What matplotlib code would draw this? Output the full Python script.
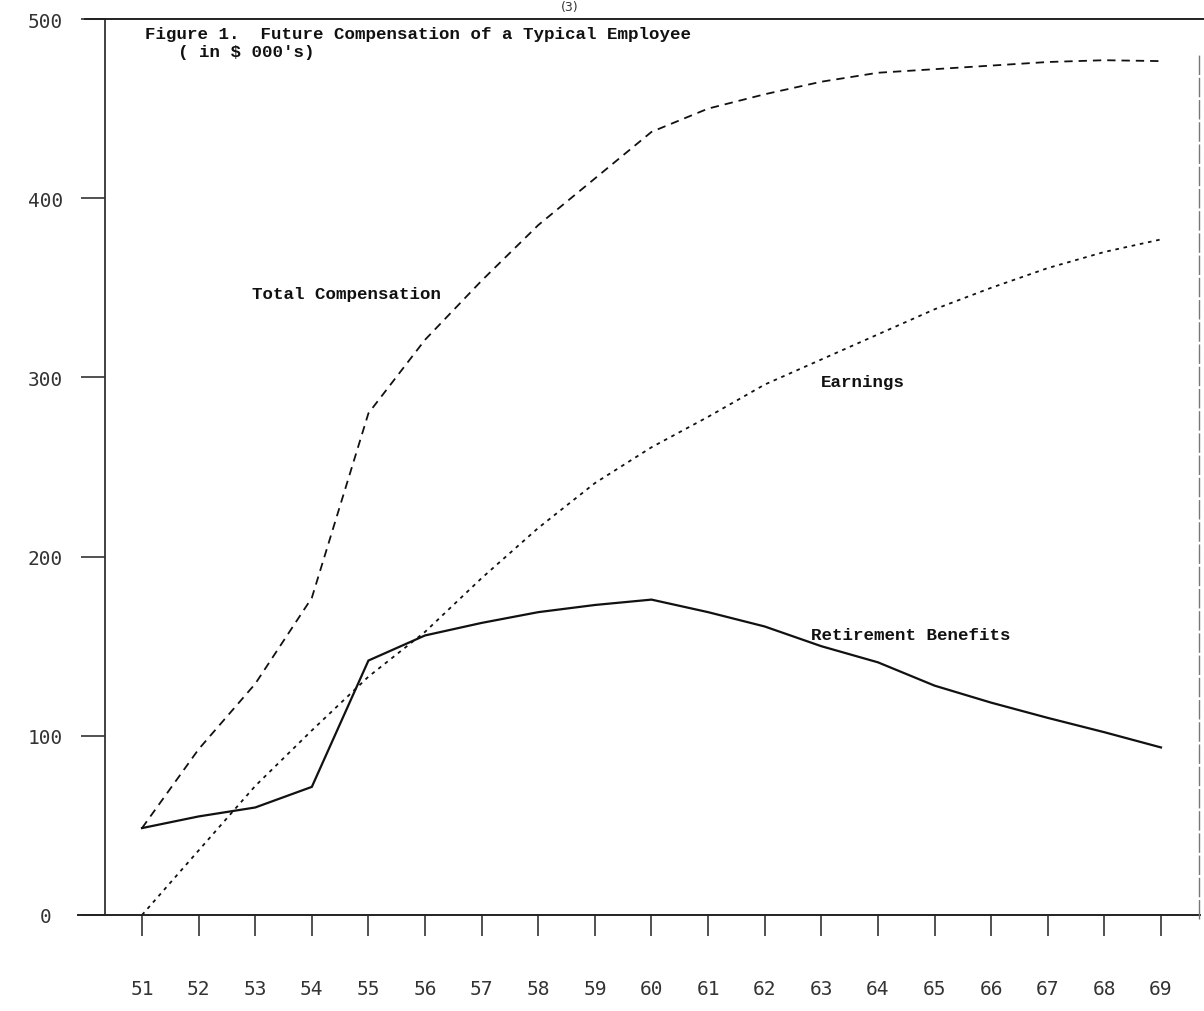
import matplotlib
matplotlib.use("Agg")
import matplotlib.pyplot as plt

# ---- data ----
years = list(range(51, 70))
year_labels = [str(y) for y in years]
total_comp = [48.5, 92.5, 129, 177, 280, 321, 354, 385, 411, 437, 450, 458, 465, 470, 472, 474, 476, 477, 476.5]
earnings = [0, 36, 72, 103, 133, 158, 188, 216, 241, 261, 278, 296, 310, 324, 338, 350, 361, 370, 377]
retirement = [48.5, 55, 60, 71.5, 142, 156, 163, 169, 173, 176, 169, 161, 150, 141, 128, 118.5, 110, 102, 93.5]
y_ticks = [0, 100, 200, 300, 400, 500]

plt.rcParams['lines.scale_dashes'] = False

W, H = 1204, 1012
fig = plt.figure(figsize=(W / 100, H / 100), dpi=100)
L, R, T, B = 105, 1200, 20, 916
ax = fig.add_axes([L / W, (H - B) / H, (R - L) / W, (B - T) / H])

px_per_year = 56.61
x0 = 51 - (142 - L) / px_per_year
x1 = 51 + (R - 142) / px_per_year
ax.set_xlim(x0, x1)
ax.set_ylim(0, 500)

ink = '#111111'
ax.plot(years, total_comp, color=ink, lw=1.3, dashes=(6, 4.3))
ax.plot(years, earnings, color=ink, lw=1.3, dashes=(2.6, 3.4))
ax.plot(years, retirement, color=ink, lw=1.6, solid_joinstyle='miter')

for s in ax.spines.values():
    s.set_visible(False)

# frame lines
ax.plot([0, 0], [0, 1], transform=ax.transAxes, color='#333', lw=1.3, clip_on=False)
ax.plot([-0.0247, 1.0], [0, 0], transform=ax.transAxes, color='#222', lw=1.4, clip_on=False)
ax.plot([-0.018, 1.004], [1, 1], transform=ax.transAxes, color='#222', lw=1.4, clip_on=False)
ax.plot([0.999, 0.999], [-0.004, 0.961], transform=ax.transAxes, color='#777', lw=1.0,
        dashes=(14, 2), clip_on=False)

mono = 'DejaVu Sans Mono'
ax.set_xticks(years)
ax.set_xticklabels(year_labels, fontfamily=mono, fontsize=14, color='#333')
ax.set_yticks(y_ticks)
ax.set_yticklabels([str(v) for v in y_ticks], fontfamily=mono, fontsize=14, color='#333',
                   ha='center')
ax.tick_params(axis='x', direction='out', length=15, width=1.2, color='#333', pad=31)
ax.tick_params(axis='y', direction='out', length=17, width=1.2, color='#333', pad=26)

def px_to_data(px, py):
    return 51 + (px - 142) / px_per_year, (B - py) / ((B - T) / 500)

tfont = dict(fontfamily='Liberation Mono', fontweight='bold', fontsize=12.6, color='#111',
             ha='left', va='center')
ax.text(*px_to_data(145, 35), "Figure 1.  Future Compensation of a Typical Employee", **tfont)
ax.text(*px_to_data(178, 52), "( in $ 000's)", **tfont)
ax.text(*px_to_data(252, 295), "Total Compensation", **tfont)
ax.text(*px_to_data(821, 383), "Earnings", **tfont)
ax.text(*px_to_data(811, 636), "Retirement Benefits", **tfont)

fig.text(570 / W, 1 - 1 / H, "(3)", fontfamily='DejaVu Sans', fontsize=9, color='#333',
         ha='center', va='top')

fig.savefig("out.png", dpi=100, facecolor='white')
